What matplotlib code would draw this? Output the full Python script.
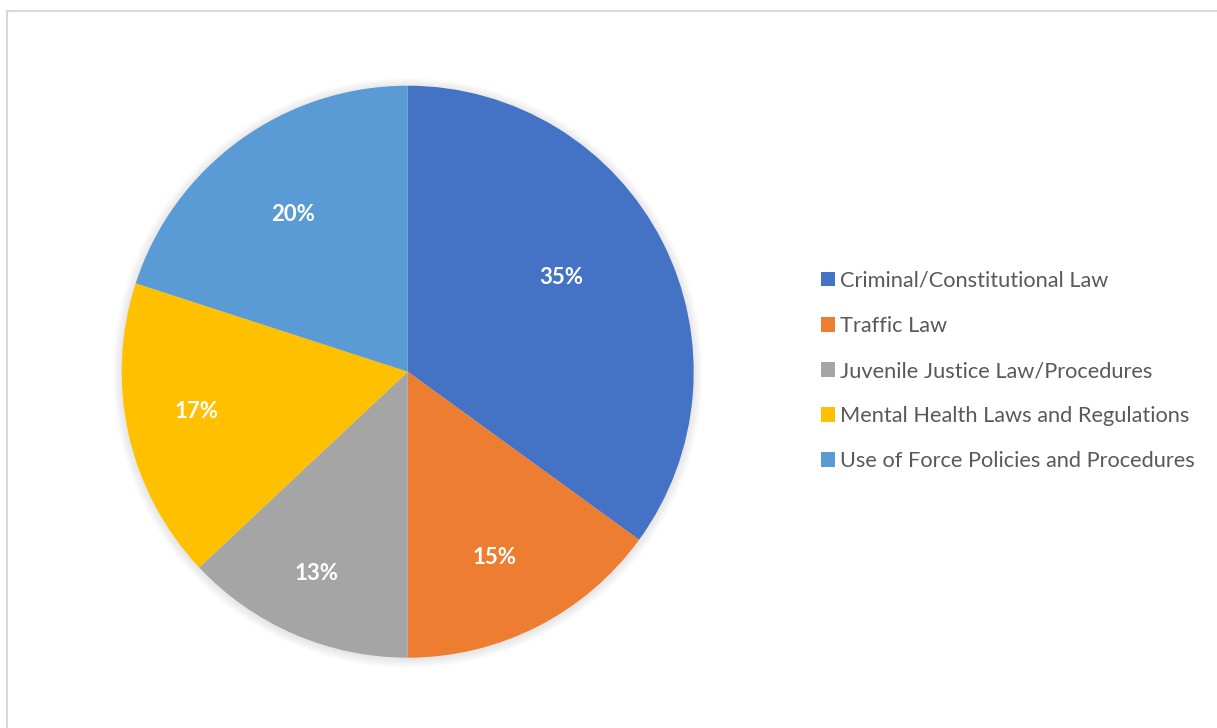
import matplotlib
matplotlib.use("Agg")
import matplotlib.pyplot as plt
from matplotlib.patches import Rectangle, Circle
import numpy as np

categories = ["Criminal/Constitutional Law", "Traffic Law", "Juvenile Justice Law/Procedures",
              "Mental Health Laws and Regulations", "Use of Force Policies and Procedures"]
values = [35, 15, 13, 17, 20]
pct_labels = ["35%", "15%", "13%", "17%", "20%"]
colors = ["#4472C4", "#ED7D31", "#A5A5A5", "#FFC000", "#5B9BD5"]
label_dist = [0.63, 0.715, 0.775, 0.75, 0.68]
label_angle_shift = [4.5, -2.0, -1.0, -2.0, 0.0]

plt.rcParams['font.family'] = ['Lato', 'DejaVu Sans']

W, H = 1217, 728
fig = plt.figure(figsize=(W / 100, H / 100), dpi=100)
fig.patch.set_facecolor("white")

# chart-area border
fig.patches.append(Rectangle((7 / W, -0.05), 1.1, (H - 11) / H + 0.05, transform=fig.transFigure,
                             fill=False, edgecolor="#d9d9d9", linewidth=1.5, zorder=0))

cx, cy, R = 407.7, 371.7, 286.0
ax = fig.add_axes([(cx - R) / W, (H - cy - R) / H, 2 * R / W, 2 * R / H])
ax.axis("off")

# soft shadow
for i in range(8):
    r = 1.0 + 0.004 * (i + 1)
    ax.add_patch(Circle((0, -0.004), r, facecolor="black", alpha=0.012, edgecolor="none",
                        zorder=0, clip_on=False))

wedges, _ = ax.pie(values, colors=colors, startangle=90, counterclock=False, radius=1,
                   wedgeprops=dict(edgecolor="none", linewidth=0), frame=False)
ax.set_xlim(-1, 1)
ax.set_ylim(-1, 1)
ax.set_aspect("auto")
for w in wedges:
    w.set_zorder(2)

for w, lab, d, sh in zip(wedges, pct_labels, label_dist, label_angle_shift):
    mid = np.deg2rad((w.theta1 + w.theta2) / 2 + sh)
    ax.text(d * np.cos(mid), d * np.sin(mid), lab, ha="center", va="center",
            color="white", fontsize=16, fontweight="bold", zorder=3)

leg = fig.legend(wedges, categories, loc="center left",
                 bbox_to_anchor=(821 / W, (H - 371) / H), frameon=False,
                 fontsize=15.7, labelcolor="#595959", handlelength=0.65, handleheight=0.65,
                 handletextpad=0.23, labelspacing=1.15, borderaxespad=0, borderpad=0)

fig.savefig("out.png", dpi=100, facecolor="white")
